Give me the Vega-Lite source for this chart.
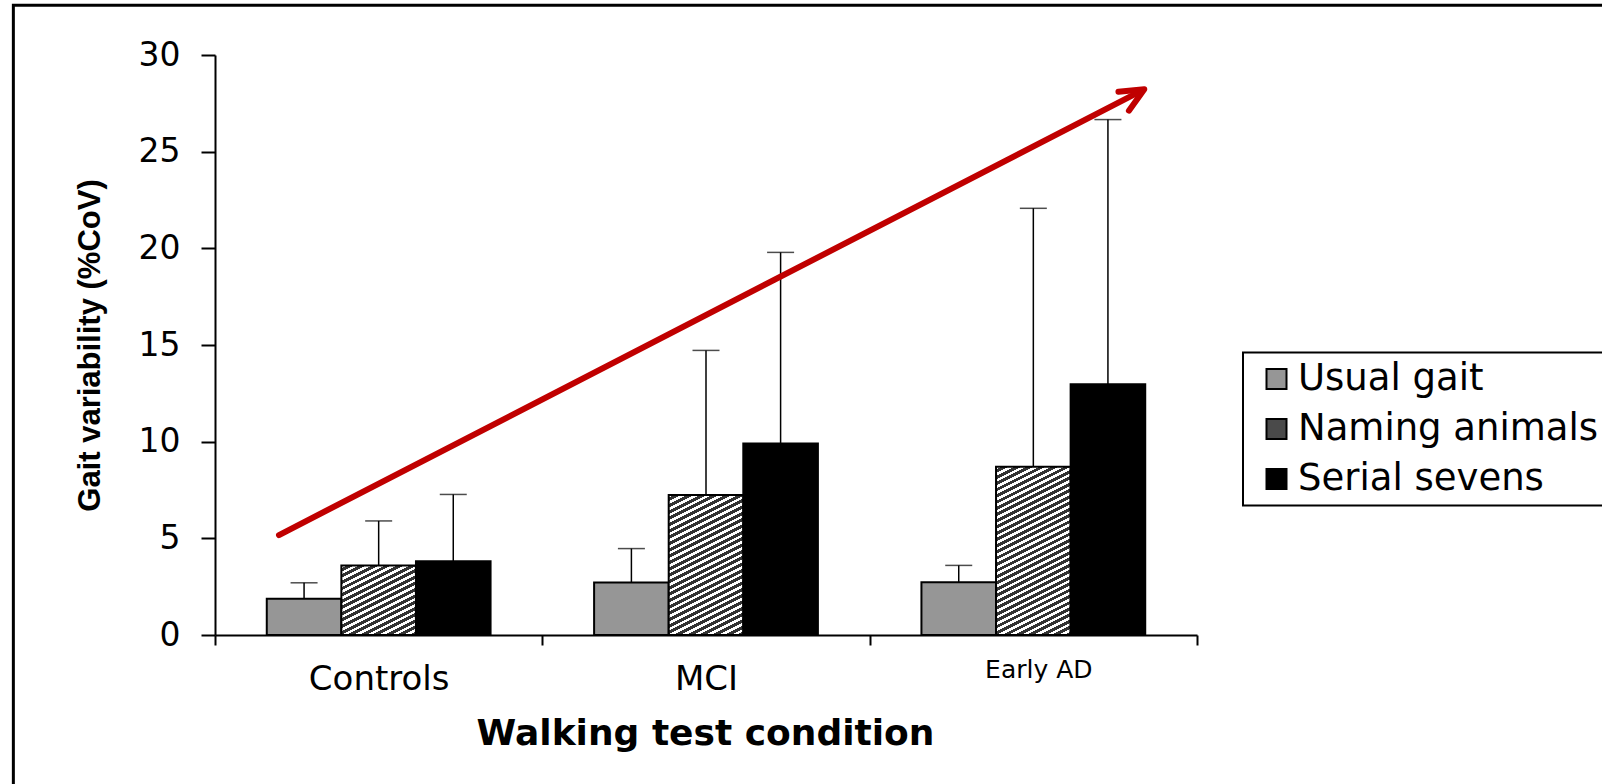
{
  "$schema": "https://vega.github.io/schema/vega-lite/v6.json",
  "width": 982,
  "height": 580,
  "autosize": {"type": "none"},
  "padding": {"left": 215, "top": 55, "right": 405, "bottom": 149},
  "background": "#ffffff",
  "config": {
    "view": {"stroke": null},
    "axis": {"domainColor": "#000", "tickColor": "#000", "labelColor": "#000", "titleColor": "#000", "grid": false},
    "legend": {"strokeWidth": 2}
  },
  "datasets": {
    "gait": [
      {"group": "Controls", "task": "Usual gait", "mean": 1.87, "upper": 2.7},
      {"group": "Controls", "task": "Naming animals", "mean": 3.6, "upper": 5.9},
      {"group": "Controls", "task": "Serial sevens", "mean": 3.82, "upper": 7.27},
      {"group": "MCI", "task": "Usual gait", "mean": 2.72, "upper": 4.47},
      {"group": "MCI", "task": "Naming animals", "mean": 7.24, "upper": 14.72},
      {"group": "MCI", "task": "Serial sevens", "mean": 9.91, "upper": 19.79},
      {"group": "Early AD", "task": "Usual gait", "mean": 2.73, "upper": 3.6},
      {"group": "Early AD", "task": "Naming animals", "mean": 8.7, "upper": 22.07},
      {"group": "Early AD", "task": "Serial sevens", "mean": 12.97, "upper": 26.66}
    ],
    "arrow": [
      {"part": "shaft", "step": 1, "ax": 0.1955, "ay": 5.17},
      {"part": "shaft", "step": 2, "ax": 2.831, "ay": 28.16},
      {"part": "head", "step": 1, "ax": 2.76, "ay": 28.1},
      {"part": "head", "step": 2, "ax": 2.839, "ay": 28.23},
      {"part": "head", "step": 3, "ax": 2.792, "ay": 27.12}
    ],
    "frame": [{"x0": -0.616, "x1": 6, "y0": 32.57, "y1": -20}]
  },
  "layer": [
    {
      "data": {"name": "gait"},
      "encoding": {
        "x": {
          "field": "group", "type": "nominal", "sort": ["Controls", "MCI", "Early AD"],
          "scale": {"paddingInner": 0, "paddingOuter": 0},
          "axis": {
            "title": "Walking test condition",
            "tickBand": "extent",
            "domainWidth": 2, "tickWidth": 2, "tickSize": 10,
            "labelAngle": 0,
            "labelFont": "DejaVu Sans",
            "labelFontSize": {"condition": {"test": "datum.value === 'Early AD'", "value": 25}, "value": 34},
            "labelBaseline": "alphabetic",
            "labelPadding": {"condition": {"test": "datum.value === 'Early AD'", "value": 32}, "value": 44},
            "labelOffset": {"condition": {"test": "datum.value === 'Early AD'", "value": 5}, "value": 0},
            "titleFont": "DejaVu Sans", "titleFontWeight": "bold", "titleFontSize": 36,
            "titleX": 490, "titleY": 109, "titleAlign": "center", "titleBaseline": "alphabetic"
          }
        },
        "xOffset": {
          "field": "task", "type": "nominal", "sort": ["Usual gait", "Naming animals", "Serial sevens"],
          "scale": {"paddingInner": 0, "paddingOuter": 0.694}
        }
      },
      "layer": [
        {
          "mark": {"type": "bar", "stroke": "#000", "strokeWidth": 2},
          "encoding": {
            "y": {
              "field": "mean", "type": "quantitative",
              "scale": {"domain": [0, 30], "nice": false},
              "axis": {
                "title": "Gait variability (%CoV)",
                "values": [0, 5, 10, 15, 20, 25, 30],
                "domainWidth": 2, "tickWidth": 2, "tickSize": 14,
                "labelFont": "DejaVu Sans", "labelFontSize": 33, "labelPadding": 21,
                "titleFont": "Liberation Sans", "titleFontWeight": "bold", "titleFontSize": 31,
                "titleX": -125, "titleY": 290, "titleAngle": -90, "titleAlign": "center", "titleBaseline": "middle"
              }
            },
            "fill": {
              "field": "task", "type": "nominal",
              "scale": {"domain": ["Usual gait", "Naming animals", "Serial sevens"], "range": ["#969696", "#4a4a4a", "#000000"]},
              "legend": {
                "title": null, "orient": "none", "legendX": 1028, "legendY": 297.5,
                "padding": 8, "strokeColor": "#000",
                "symbolType": "square", "symbolSize": 400, "symbolStrokeColor": "#000", "symbolStrokeWidth": 2,
                "symbolOffset": 7, "labelOffset": 3, "rowPadding": 12,
                "labelFont": "DejaVu Sans", "labelFontSize": 37, "labelColor": "#000", "labelLimit": 400
              },
              "condition": [
                {"test": "datum.task === 'Naming animals' && datum.group === 'Controls'", "value": {"gradient": "linear", "x1": 1, "y1": 1, "x2": 0.3606, "y2": -0.1932, "stops": [
                  {"offset": 0, "color": "#333"},
                  {"offset": 0.0324, "color": "#333"}, {"offset": 0.0324, "color": "#fff"}, {"offset": 0.0588, "color": "#fff"}, {"offset": 0.0588, "color": "#333"},
                  {"offset": 0.0912, "color": "#333"}, {"offset": 0.0912, "color": "#fff"}, {"offset": 0.1176, "color": "#fff"}, {"offset": 0.1176, "color": "#333"},
                  {"offset": 0.15, "color": "#333"}, {"offset": 0.15, "color": "#fff"}, {"offset": 0.1765, "color": "#fff"}, {"offset": 0.1765, "color": "#333"},
                  {"offset": 0.2088, "color": "#333"}, {"offset": 0.2088, "color": "#fff"}, {"offset": 0.2353, "color": "#fff"}, {"offset": 0.2353, "color": "#333"},
                  {"offset": 0.2676, "color": "#333"}, {"offset": 0.2676, "color": "#fff"}, {"offset": 0.2941, "color": "#fff"}, {"offset": 0.2941, "color": "#333"},
                  {"offset": 0.3265, "color": "#333"}, {"offset": 0.3265, "color": "#fff"}, {"offset": 0.3529, "color": "#fff"}, {"offset": 0.3529, "color": "#333"},
                  {"offset": 0.3853, "color": "#333"}, {"offset": 0.3853, "color": "#fff"}, {"offset": 0.4118, "color": "#fff"}, {"offset": 0.4118, "color": "#333"},
                  {"offset": 0.4441, "color": "#333"}, {"offset": 0.4441, "color": "#fff"}, {"offset": 0.4706, "color": "#fff"}, {"offset": 0.4706, "color": "#333"},
                  {"offset": 0.5029, "color": "#333"}, {"offset": 0.5029, "color": "#fff"}, {"offset": 0.5294, "color": "#fff"}, {"offset": 0.5294, "color": "#333"},
                  {"offset": 0.5618, "color": "#333"}, {"offset": 0.5618, "color": "#fff"}, {"offset": 0.5882, "color": "#fff"}, {"offset": 0.5882, "color": "#333"},
                  {"offset": 0.6206, "color": "#333"}, {"offset": 0.6206, "color": "#fff"}, {"offset": 0.6471, "color": "#fff"}, {"offset": 0.6471, "color": "#333"},
                  {"offset": 0.6794, "color": "#333"}, {"offset": 0.6794, "color": "#fff"}, {"offset": 0.7059, "color": "#fff"}, {"offset": 0.7059, "color": "#333"},
                  {"offset": 0.7382, "color": "#333"}, {"offset": 0.7382, "color": "#fff"}, {"offset": 0.7647, "color": "#fff"}, {"offset": 0.7647, "color": "#333"},
                  {"offset": 0.7971, "color": "#333"}, {"offset": 0.7971, "color": "#fff"}, {"offset": 0.8235, "color": "#fff"}, {"offset": 0.8235, "color": "#333"},
                  {"offset": 0.8559, "color": "#333"}, {"offset": 0.8559, "color": "#fff"}, {"offset": 0.8824, "color": "#fff"}, {"offset": 0.8824, "color": "#333"},
                  {"offset": 0.9147, "color": "#333"}, {"offset": 0.9147, "color": "#fff"}, {"offset": 0.9412, "color": "#fff"}, {"offset": 0.9412, "color": "#333"},
                  {"offset": 0.9735, "color": "#333"}, {"offset": 0.9735, "color": "#fff"}, {"offset": 1, "color": "#fff"}
                ]}},
                {"test": "datum.task === 'Naming animals' && datum.group === 'MCI'", "value": {"gradient": "linear", "x1": 1, "y1": 1, "x2": 0.685, "y2": -0.1825, "stops": [
                  {"offset": 0, "color": "#333"},
                  {"offset": 0.0196, "color": "#333"}, {"offset": 0.0196, "color": "#fff"}, {"offset": 0.0357, "color": "#fff"}, {"offset": 0.0357, "color": "#333"},
                  {"offset": 0.0554, "color": "#333"}, {"offset": 0.0554, "color": "#fff"}, {"offset": 0.0714, "color": "#fff"}, {"offset": 0.0714, "color": "#333"},
                  {"offset": 0.0911, "color": "#333"}, {"offset": 0.0911, "color": "#fff"}, {"offset": 0.1071, "color": "#fff"}, {"offset": 0.1071, "color": "#333"},
                  {"offset": 0.1268, "color": "#333"}, {"offset": 0.1268, "color": "#fff"}, {"offset": 0.1429, "color": "#fff"}, {"offset": 0.1429, "color": "#333"},
                  {"offset": 0.1625, "color": "#333"}, {"offset": 0.1625, "color": "#fff"}, {"offset": 0.1786, "color": "#fff"}, {"offset": 0.1786, "color": "#333"},
                  {"offset": 0.1982, "color": "#333"}, {"offset": 0.1982, "color": "#fff"}, {"offset": 0.2143, "color": "#fff"}, {"offset": 0.2143, "color": "#333"},
                  {"offset": 0.2339, "color": "#333"}, {"offset": 0.2339, "color": "#fff"}, {"offset": 0.25, "color": "#fff"}, {"offset": 0.25, "color": "#333"},
                  {"offset": 0.2696, "color": "#333"}, {"offset": 0.2696, "color": "#fff"}, {"offset": 0.2857, "color": "#fff"}, {"offset": 0.2857, "color": "#333"},
                  {"offset": 0.3054, "color": "#333"}, {"offset": 0.3054, "color": "#fff"}, {"offset": 0.3214, "color": "#fff"}, {"offset": 0.3214, "color": "#333"},
                  {"offset": 0.3411, "color": "#333"}, {"offset": 0.3411, "color": "#fff"}, {"offset": 0.3571, "color": "#fff"}, {"offset": 0.3571, "color": "#333"},
                  {"offset": 0.3768, "color": "#333"}, {"offset": 0.3768, "color": "#fff"}, {"offset": 0.3929, "color": "#fff"}, {"offset": 0.3929, "color": "#333"},
                  {"offset": 0.4125, "color": "#333"}, {"offset": 0.4125, "color": "#fff"}, {"offset": 0.4286, "color": "#fff"}, {"offset": 0.4286, "color": "#333"},
                  {"offset": 0.4482, "color": "#333"}, {"offset": 0.4482, "color": "#fff"}, {"offset": 0.4643, "color": "#fff"}, {"offset": 0.4643, "color": "#333"},
                  {"offset": 0.4839, "color": "#333"}, {"offset": 0.4839, "color": "#fff"}, {"offset": 0.5, "color": "#fff"}, {"offset": 0.5, "color": "#333"},
                  {"offset": 0.5196, "color": "#333"}, {"offset": 0.5196, "color": "#fff"}, {"offset": 0.5357, "color": "#fff"}, {"offset": 0.5357, "color": "#333"},
                  {"offset": 0.5554, "color": "#333"}, {"offset": 0.5554, "color": "#fff"}, {"offset": 0.5714, "color": "#fff"}, {"offset": 0.5714, "color": "#333"},
                  {"offset": 0.5911, "color": "#333"}, {"offset": 0.5911, "color": "#fff"}, {"offset": 0.6071, "color": "#fff"}, {"offset": 0.6071, "color": "#333"},
                  {"offset": 0.6268, "color": "#333"}, {"offset": 0.6268, "color": "#fff"}, {"offset": 0.6429, "color": "#fff"}, {"offset": 0.6429, "color": "#333"},
                  {"offset": 0.6625, "color": "#333"}, {"offset": 0.6625, "color": "#fff"}, {"offset": 0.6786, "color": "#fff"}, {"offset": 0.6786, "color": "#333"},
                  {"offset": 0.6982, "color": "#333"}, {"offset": 0.6982, "color": "#fff"}, {"offset": 0.7143, "color": "#fff"}, {"offset": 0.7143, "color": "#333"},
                  {"offset": 0.7339, "color": "#333"}, {"offset": 0.7339, "color": "#fff"}, {"offset": 0.75, "color": "#fff"}, {"offset": 0.75, "color": "#333"},
                  {"offset": 0.7696, "color": "#333"}, {"offset": 0.7696, "color": "#fff"}, {"offset": 0.7857, "color": "#fff"}, {"offset": 0.7857, "color": "#333"},
                  {"offset": 0.8054, "color": "#333"}, {"offset": 0.8054, "color": "#fff"}, {"offset": 0.8214, "color": "#fff"}, {"offset": 0.8214, "color": "#333"},
                  {"offset": 0.8411, "color": "#333"}, {"offset": 0.8411, "color": "#fff"}, {"offset": 0.8571, "color": "#fff"}, {"offset": 0.8571, "color": "#333"},
                  {"offset": 0.8768, "color": "#333"}, {"offset": 0.8768, "color": "#fff"}, {"offset": 0.8929, "color": "#fff"}, {"offset": 0.8929, "color": "#333"},
                  {"offset": 0.9125, "color": "#333"}, {"offset": 0.9125, "color": "#fff"}, {"offset": 0.9286, "color": "#fff"}, {"offset": 0.9286, "color": "#333"},
                  {"offset": 0.9482, "color": "#333"}, {"offset": 0.9482, "color": "#fff"}, {"offset": 0.9643, "color": "#fff"}, {"offset": 0.9643, "color": "#333"},
                  {"offset": 0.9839, "color": "#333"}, {"offset": 0.9839, "color": "#fff"}, {"offset": 1, "color": "#fff"}
                ]}},
                {"test": "datum.task === 'Naming animals' && datum.group === 'Early AD'", "value": {"gradient": "linear", "x1": 1, "y1": 1, "x2": 0.7417, "y2": -0.1645, "stops": [
                  {"offset": 0, "color": "#333"},
                  {"offset": 0.0167, "color": "#333"}, {"offset": 0.0167, "color": "#fff"}, {"offset": 0.0303, "color": "#fff"}, {"offset": 0.0303, "color": "#333"},
                  {"offset": 0.047, "color": "#333"}, {"offset": 0.047, "color": "#fff"}, {"offset": 0.0606, "color": "#fff"}, {"offset": 0.0606, "color": "#333"},
                  {"offset": 0.0773, "color": "#333"}, {"offset": 0.0773, "color": "#fff"}, {"offset": 0.0909, "color": "#fff"}, {"offset": 0.0909, "color": "#333"},
                  {"offset": 0.1076, "color": "#333"}, {"offset": 0.1076, "color": "#fff"}, {"offset": 0.1212, "color": "#fff"}, {"offset": 0.1212, "color": "#333"},
                  {"offset": 0.1379, "color": "#333"}, {"offset": 0.1379, "color": "#fff"}, {"offset": 0.1515, "color": "#fff"}, {"offset": 0.1515, "color": "#333"},
                  {"offset": 0.1682, "color": "#333"}, {"offset": 0.1682, "color": "#fff"}, {"offset": 0.1818, "color": "#fff"}, {"offset": 0.1818, "color": "#333"},
                  {"offset": 0.1985, "color": "#333"}, {"offset": 0.1985, "color": "#fff"}, {"offset": 0.2121, "color": "#fff"}, {"offset": 0.2121, "color": "#333"},
                  {"offset": 0.2288, "color": "#333"}, {"offset": 0.2288, "color": "#fff"}, {"offset": 0.2424, "color": "#fff"}, {"offset": 0.2424, "color": "#333"},
                  {"offset": 0.2591, "color": "#333"}, {"offset": 0.2591, "color": "#fff"}, {"offset": 0.2727, "color": "#fff"}, {"offset": 0.2727, "color": "#333"},
                  {"offset": 0.2894, "color": "#333"}, {"offset": 0.2894, "color": "#fff"}, {"offset": 0.303, "color": "#fff"}, {"offset": 0.303, "color": "#333"},
                  {"offset": 0.3197, "color": "#333"}, {"offset": 0.3197, "color": "#fff"}, {"offset": 0.3333, "color": "#fff"}, {"offset": 0.3333, "color": "#333"},
                  {"offset": 0.35, "color": "#333"}, {"offset": 0.35, "color": "#fff"}, {"offset": 0.3636, "color": "#fff"}, {"offset": 0.3636, "color": "#333"},
                  {"offset": 0.3803, "color": "#333"}, {"offset": 0.3803, "color": "#fff"}, {"offset": 0.3939, "color": "#fff"}, {"offset": 0.3939, "color": "#333"},
                  {"offset": 0.4106, "color": "#333"}, {"offset": 0.4106, "color": "#fff"}, {"offset": 0.4242, "color": "#fff"}, {"offset": 0.4242, "color": "#333"},
                  {"offset": 0.4409, "color": "#333"}, {"offset": 0.4409, "color": "#fff"}, {"offset": 0.4545, "color": "#fff"}, {"offset": 0.4545, "color": "#333"},
                  {"offset": 0.4712, "color": "#333"}, {"offset": 0.4712, "color": "#fff"}, {"offset": 0.4848, "color": "#fff"}, {"offset": 0.4848, "color": "#333"},
                  {"offset": 0.5015, "color": "#333"}, {"offset": 0.5015, "color": "#fff"}, {"offset": 0.5152, "color": "#fff"}, {"offset": 0.5152, "color": "#333"},
                  {"offset": 0.5318, "color": "#333"}, {"offset": 0.5318, "color": "#fff"}, {"offset": 0.5455, "color": "#fff"}, {"offset": 0.5455, "color": "#333"},
                  {"offset": 0.5621, "color": "#333"}, {"offset": 0.5621, "color": "#fff"}, {"offset": 0.5758, "color": "#fff"}, {"offset": 0.5758, "color": "#333"},
                  {"offset": 0.5924, "color": "#333"}, {"offset": 0.5924, "color": "#fff"}, {"offset": 0.6061, "color": "#fff"}, {"offset": 0.6061, "color": "#333"},
                  {"offset": 0.6227, "color": "#333"}, {"offset": 0.6227, "color": "#fff"}, {"offset": 0.6364, "color": "#fff"}, {"offset": 0.6364, "color": "#333"},
                  {"offset": 0.653, "color": "#333"}, {"offset": 0.653, "color": "#fff"}, {"offset": 0.6667, "color": "#fff"}, {"offset": 0.6667, "color": "#333"},
                  {"offset": 0.6833, "color": "#333"}, {"offset": 0.6833, "color": "#fff"}, {"offset": 0.697, "color": "#fff"}, {"offset": 0.697, "color": "#333"},
                  {"offset": 0.7136, "color": "#333"}, {"offset": 0.7136, "color": "#fff"}, {"offset": 0.7273, "color": "#fff"}, {"offset": 0.7273, "color": "#333"},
                  {"offset": 0.7439, "color": "#333"}, {"offset": 0.7439, "color": "#fff"}, {"offset": 0.7576, "color": "#fff"}, {"offset": 0.7576, "color": "#333"},
                  {"offset": 0.7742, "color": "#333"}, {"offset": 0.7742, "color": "#fff"}, {"offset": 0.7879, "color": "#fff"}, {"offset": 0.7879, "color": "#333"},
                  {"offset": 0.8045, "color": "#333"}, {"offset": 0.8045, "color": "#fff"}, {"offset": 0.8182, "color": "#fff"}, {"offset": 0.8182, "color": "#333"},
                  {"offset": 0.8348, "color": "#333"}, {"offset": 0.8348, "color": "#fff"}, {"offset": 0.8485, "color": "#fff"}, {"offset": 0.8485, "color": "#333"},
                  {"offset": 0.8652, "color": "#333"}, {"offset": 0.8652, "color": "#fff"}, {"offset": 0.8788, "color": "#fff"}, {"offset": 0.8788, "color": "#333"},
                  {"offset": 0.8955, "color": "#333"}, {"offset": 0.8955, "color": "#fff"}, {"offset": 0.9091, "color": "#fff"}, {"offset": 0.9091, "color": "#333"},
                  {"offset": 0.9258, "color": "#333"}, {"offset": 0.9258, "color": "#fff"}, {"offset": 0.9394, "color": "#fff"}, {"offset": 0.9394, "color": "#333"},
                  {"offset": 0.9561, "color": "#333"}, {"offset": 0.9561, "color": "#fff"}, {"offset": 0.9697, "color": "#fff"}, {"offset": 0.9697, "color": "#333"},
                  {"offset": 0.9864, "color": "#333"}, {"offset": 0.9864, "color": "#fff"}, {"offset": 1, "color": "#fff"}
                ]}}
              ]
            }
          }
        },
        {
          "mark": {"type": "rule", "color": "#000", "strokeWidth": 1.5},
          "encoding": {
            "y": {"field": "mean", "type": "quantitative", "scale": {"domain": [0, 30], "nice": false}},
            "y2": {"field": "upper"}
          }
        },
        {
          "mark": {"type": "tick", "orient": "horizontal", "color": "#000", "size": 27, "thickness": 1.5},
          "encoding": {
            "y": {"field": "upper", "type": "quantitative", "scale": {"domain": [0, 30], "nice": false}}
          }
        }
      ]
    },
    {
      "encoding": {
        "x": {"type": "quantitative", "scale": {"domain": [0, 3], "nice": false, "zero": false}, "axis": null}
      },
      "layer": [
        {
          "data": {"name": "frame"},
          "mark": {"type": "rect", "filled": false, "color": "#000", "strokeWidth": 3},
          "encoding": {
            "x": {"field": "x0", "type": "quantitative", "scale": {"domain": [0, 3], "nice": false, "zero": false}, "axis": null},
            "x2": {"field": "x1"},
            "y": {"field": "y0", "type": "quantitative", "scale": {"domain": [0, 30], "nice": false}},
            "y2": {"field": "y1"}
          }
        },
        {
          "data": {"name": "arrow"},
          "mark": {"type": "line", "color": "#C00000", "strokeWidth": 6, "strokeCap": "round", "strokeJoin": "round"},
          "encoding": {
            "x": {"field": "ax", "type": "quantitative", "scale": {"domain": [0, 3], "nice": false, "zero": false}, "axis": null},
            "y": {"field": "ay", "type": "quantitative", "scale": {"domain": [0, 30], "nice": false}},
            "detail": {"field": "part", "type": "nominal"},
            "order": {"field": "step", "type": "quantitative"}
          }
        }
      ]
    }
  ],
  "resolve": {"scale": {"x": "independent"}}
}
